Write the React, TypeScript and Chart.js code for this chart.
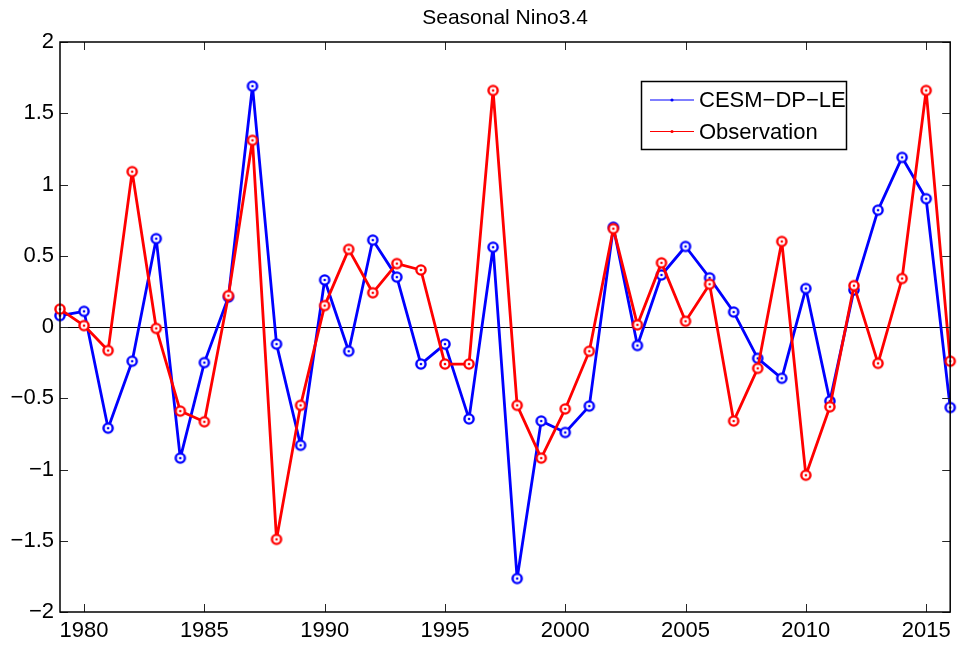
import React, { useEffect, useRef } from "react";
import { Chart, registerables } from "chart.js";

Chart.register(...registerables);

const years: number[] = [
  1979, 1980, 1981, 1982, 1983, 1984, 1985, 1986, 1987, 1988, 1989, 1990, 1991,
  1992, 1993, 1994, 1995, 1996, 1997, 1998, 1999, 2000, 2001, 2002, 2003, 2004,
  2005, 2006, 2007, 2008, 2009, 2010, 2011, 2012, 2013, 2014, 2015, 2016,
];

const cesmDpLe: number[] = [
  0.08, 0.11, -0.71, -0.24, 0.62, -0.92, -0.25, 0.21, 1.69, -0.12, -0.83, 0.33, -0.17,
  0.61, 0.35, -0.26, -0.12, -0.645, 0.56, -1.765, -0.66, -0.74, -0.555, 0.70, -0.13, 0.365,
  0.565, 0.345, 0.105, -0.22, -0.36, 0.27, -0.52, 0.26, 0.82, 1.19, 0.90, -0.565,
];

const observation: number[] = [
  0.125, 0.01, -0.165, 1.09, -0.01, -0.59, -0.665, 0.22, 1.31, -1.49, -0.55, 0.15, 0.545,
  0.24, 0.445, 0.40, -0.26, -0.26, 1.66, -0.55, -0.92, -0.575, -0.17, 0.69, 0.015, 0.45,
  0.04, 0.30, -0.66, -0.29, 0.60, -1.04, -0.56, 0.29, -0.255, 0.34, 1.66, -0.24,
];

const xTickValues: number[] = [1980, 1985, 1990, 1995, 2000, 2005, 2010, 2015];
const yTickValues: number[] = [-2, -1.5, -1, -0.5, 0, 0.5, 1, 1.5, 2];

const seriesNames: string[] = ["CESM\u2212DP\u2212LE", "Observation"];
const seriesColors: string[] = ["#0000ff", "#ff0000"];
const titleText = "Seasonal Nino3.4";

const FONT = "'Liberation Sans', Arial, Helvetica, sans-serif";

function makeMarker(color: string): HTMLCanvasElement {
  const c = document.createElement("canvas");
  c.width = 14;
  c.height = 14;
  const g = c.getContext("2d")!;
  g.beginPath();
  g.arc(7, 7, 4.6, 0, Math.PI * 2);
  g.fillStyle = "#ffffff";
  g.fill();
  g.lineWidth = 2.4;
  g.strokeStyle = color;
  g.stroke();
  g.beginPath();
  g.arc(7, 7, 1.3, 0, Math.PI * 2);
  g.fillStyle = color;
  g.fill();
  return c;
}

// Zero line, axes box with inward ticks on all four sides, title and legend
const matlabAxes = {
  id: "matlabAxes",
  beforeDatasetsDraw(chart: any) {
    const { ctx, chartArea, scales } = chart;
    const y0 = Math.round(scales.y.getPixelForValue(0)) + 0.5;
    ctx.save();
    ctx.strokeStyle = "#000";
    ctx.lineWidth = 1;
    ctx.beginPath();
    ctx.moveTo(chartArea.left, y0);
    ctx.lineTo(chartArea.right, y0);
    ctx.stroke();
    ctx.restore();
  },
  afterDatasetsDraw(chart: any) {
    const { ctx, chartArea, scales } = chart;
    const { left, right, top, bottom } = chartArea;
    const tl = 8;
    ctx.save();
    ctx.strokeStyle = "#262626";
    ctx.lineWidth = 1;
    ctx.beginPath();
    for (const v of xTickValues) {
      const x = Math.round(scales.x.getPixelForValue(v)) + 0.5;
      ctx.moveTo(x, bottom);
      ctx.lineTo(x, bottom - tl);
      ctx.moveTo(x, top);
      ctx.lineTo(x, top + tl);
    }
    for (const v of yTickValues) {
      const y = Math.round(scales.y.getPixelForValue(v)) + 0.5;
      ctx.moveTo(left, y);
      ctx.lineTo(left + tl, y);
      ctx.moveTo(right, y);
      ctx.lineTo(right - tl, y);
    }
    ctx.stroke();
    ctx.strokeStyle = "#000";
    ctx.lineWidth = 1.5;
    ctx.strokeRect(left, top, right - left, bottom - top);

    // title
    ctx.fillStyle = "#000";
    ctx.font = `21px ${FONT}`;
    ctx.textAlign = "center";
    ctx.textBaseline = "alphabetic";
    ctx.fillText(titleText, (left + right) / 2, 24);

    // legend
    const bx = 641.5, by = 81.5, bw = 205, bh = 68;
    ctx.fillStyle = "#fff";
    ctx.fillRect(bx, by, bw, bh);
    ctx.strokeStyle = "#000";
    ctx.lineWidth = 1.5;
    ctx.strokeRect(bx, by, bw, bh);
    const rows = [100, 131.5];
    seriesNames.forEach((name, i) => {
      const ry = rows[i];
      ctx.strokeStyle = seriesColors[i];
      ctx.lineWidth = 1.2;
      ctx.beginPath();
      ctx.moveTo(650, ry);
      ctx.lineTo(694, ry);
      ctx.stroke();
      ctx.fillStyle = seriesColors[i];
      ctx.beginPath();
      ctx.arc(672, ry, 1.6, 0, Math.PI * 2);
      ctx.fill();
      ctx.fillStyle = "#000";
      ctx.font = `22px ${FONT}`;
      ctx.textAlign = "left";
      ctx.textBaseline = "middle";
      ctx.fillText(name, 699, ry + 1);
    });
    ctx.restore();
  },
};

export default function App() {
  const canvasRef = useRef<HTMLCanvasElement | null>(null);

  useEffect(() => {
    const canvas = canvasRef.current;
    if (!canvas) return;
    const markers = seriesColors.map(makeMarker);
    const chart = new Chart(canvas, {
      type: "line",
      data: {
        datasets: [
          {
            label: seriesNames[0],
            data: years.map((yr, i) => ({ x: yr, y: cesmDpLe[i] })),
            borderColor: seriesColors[0],
            borderWidth: 2.8,
            borderJoinStyle: "round",
            pointStyle: markers[0] as any,
            pointRadius: 5,
            tension: 0,
            clip: false as any,
            order: 1,
          },
          {
            label: seriesNames[1],
            data: years.map((yr, i) => ({ x: yr, y: observation[i] })),
            borderColor: seriesColors[1],
            borderWidth: 2.8,
            borderJoinStyle: "round",
            pointStyle: markers[1] as any,
            pointRadius: 5,
            tension: 0,
            clip: false as any,
            order: 0,
          },
        ],
      },
      options: {
        animation: false,
        responsive: false,
        maintainAspectRatio: false,
        devicePixelRatio: 1,
        layout: { padding: { left: 0, right: 5, top: 42, bottom: 0 } },
        plugins: {
          legend: { display: false },
          title: { display: false },
          tooltip: { enabled: false },
        },
        scales: {
          x: {
            type: "linear",
            min: 1979,
            max: 2016,
            grid: { display: false, drawTicks: false },
            border: { display: false },
            afterBuildTicks: (scale: any) => {
              scale.ticks = xTickValues.map((v) => ({ value: v }));
            },
            afterFit: (scale: any) => {
              scale.height = 35;
            },
            ticks: {
              autoSkip: false,
              maxRotation: 0,
              padding: 6,
              color: "#000",
              font: { family: FONT, size: 22 },
              callback: (v: any) => String(v),
            },
          },
          y: {
            type: "linear",
            min: -2,
            max: 2,
            grid: { display: false, drawTicks: false },
            border: { display: false },
            afterBuildTicks: (scale: any) => {
              scale.ticks = yTickValues.map((v) => ({ value: v }));
            },
            afterFit: (scale: any) => {
              scale.width = 60;
            },
            ticks: {
              padding: 6,
              color: "#000",
              font: { family: FONT, size: 22 },
              callback: (v: any) => String(v).replace("-", "\u2212"),
            },
          },
        },
      },
      plugins: [matlabAxes],
    });
    return () => chart.destroy();
  }, []);

  return (
    <div style={{ position: "fixed", left: 0, top: 0, width: 958, height: 647, background: "#fff" }}>
      <canvas ref={canvasRef} width={958} height={647} style={{ display: "block" }} />
    </div>
  );
}
